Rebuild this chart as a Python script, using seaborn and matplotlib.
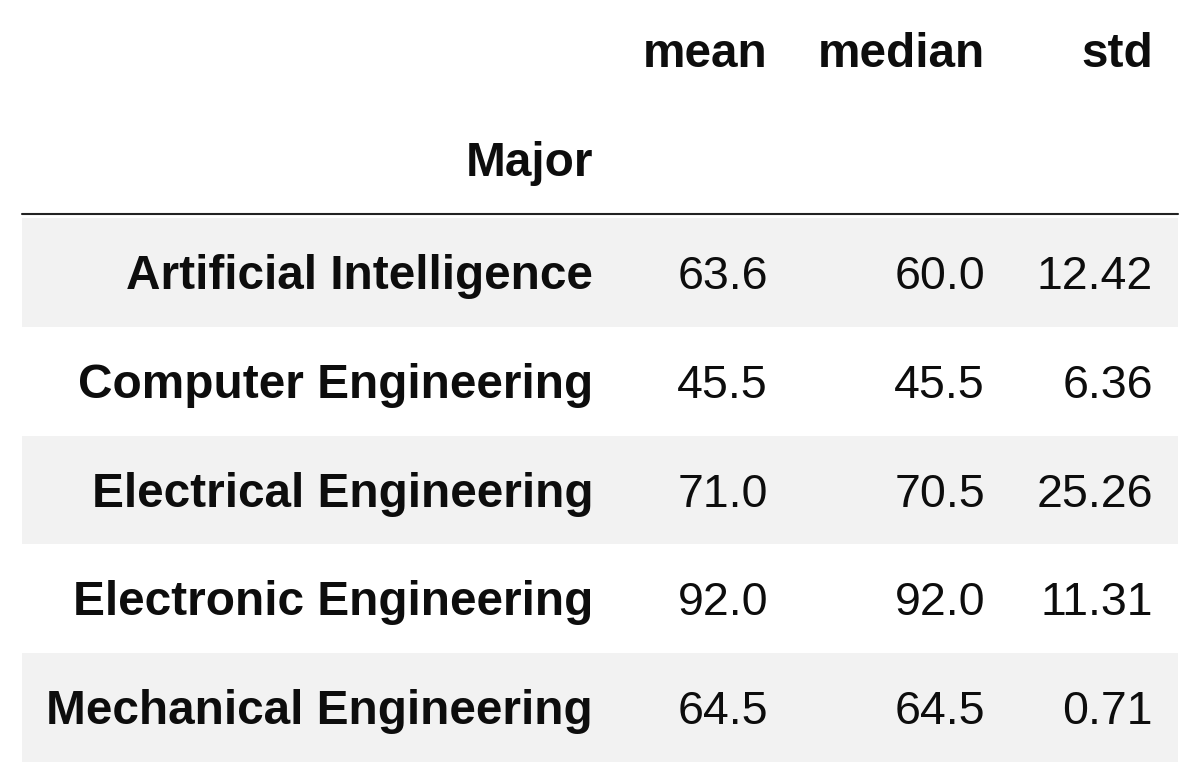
import numpy as np
import pandas as pd
import matplotlib
matplotlib.use("Agg")
import matplotlib.pyplot as plt
from matplotlib.colors import ListedColormap
import seaborn as sns

# ---- data ----
majors = ["Artificial Intelligence", "Computer Engineering", "Electrical Engineering",
          "Electronic Engineering", "Mechanical Engineering"]
columns = ["mean", "median", "std"]
mean_vals = [63.6, 45.5, 71.0, 92.0, 64.5]
median_vals = [60.0, 45.5, 70.5, 92.0, 64.5]
std_vals = [12.42, 6.36, 25.26, 11.31, 0.71]
index_name = "Major"

df = pd.DataFrame({"mean": mean_vals, "median": median_vals, "std": std_vals}, index=majors)
df.index.name = index_name

sns.set_theme(style="white")
plt.rcParams["font.family"] = ["Liberation Sans", "DejaVu Sans"]

W, H = 1200, 784
fig = plt.figure(figsize=(W / 100, H / 100), dpi=100)
# body area of the table
left, right, top, bottom = 22, 1178, 218, 762
ax = fig.add_axes([left / W, 1 - bottom / H, (right - left) / W, (bottom - top) / H])

stripes = pd.DataFrame({"band": [i % 2 for i in range(len(majors))]}, index=majors)
sns.heatmap(stripes, ax=ax, cmap=ListedColormap(["#f2f2f2", "#ffffff"]), cbar=False,
            vmin=0, vmax=1, xticklabels=False, yticklabels=False, linewidths=0)
ax.set_xlim(0, 1)
ax.set_ylim(len(majors), 0)
ax.set_xlabel("")
ax.set_ylabel("")
for s in ax.spines.values():
    s.set_visible(False)

rowh = (bottom - top) / len(majors)
def px_to_x(px):
    return (px - left) / (right - left)
def py_to_y(py):
    return (py - top) / rowh

fs = 33.5
fs_bold = 34.4
txt_color = "#0d0d0d"
idx_right = px_to_x(593)
col_right = [px_to_x(768), px_to_x(985), px_to_x(1153)]

# header
for c, xr in zip(columns, col_right):
    ax.text(xr, py_to_y(67), c, ha="right", va="baseline", fontsize=fs_bold,
            fontweight="bold", color=txt_color, clip_on=False)
ax.text(idx_right, py_to_y(176), index_name, ha="right", va="baseline", fontsize=fs_bold,
        fontweight="bold", color=txt_color, clip_on=False)
ax.axhline(py_to_y(213.5), color="#222222", lw=1.5, xmin=0, xmax=1, clip_on=False)

fmts = {"mean": "{:.1f}", "median": "{:.1f}", "std": "{:.2f}"}
for i, m in enumerate(df.index):
    yb = py_to_y(289 + i * rowh)  # baseline of row i
    ax.text(idx_right, yb, m, ha="right", va="baseline", fontsize=fs_bold,
            fontweight="bold", color=txt_color)
    for c, xr in zip(columns, col_right):
        ax.text(xr, yb, fmts[c].format(df.loc[m, c]), ha="right", va="baseline",
                fontsize=fs, color=txt_color)

fig.savefig("out.png", dpi=100, facecolor="white")
